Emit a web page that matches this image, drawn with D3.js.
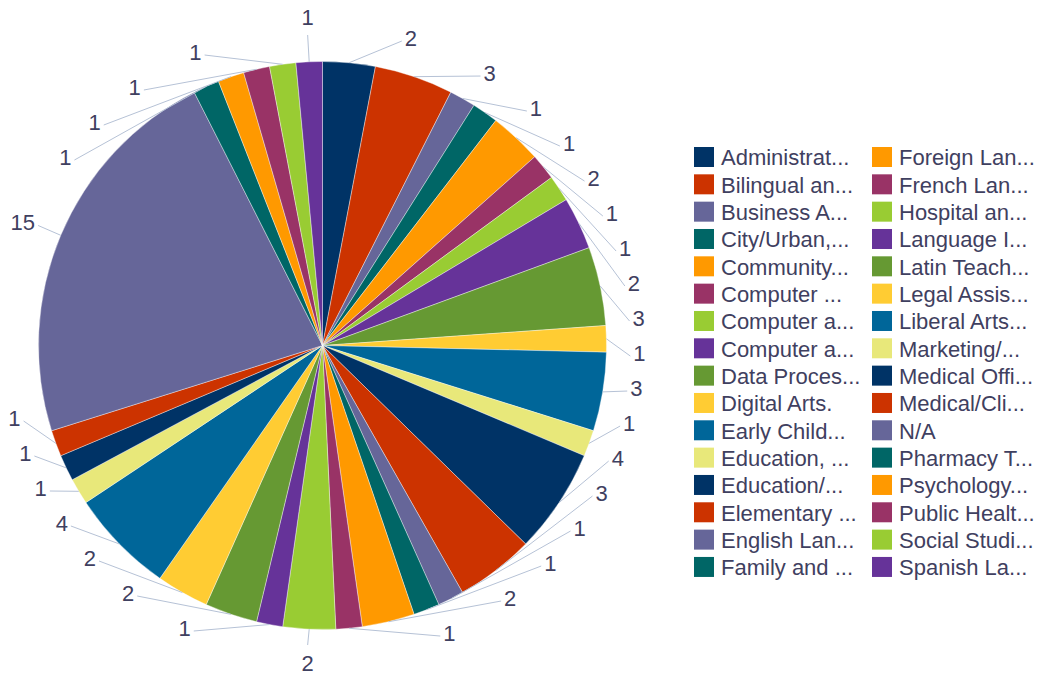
<!DOCTYPE html>
<html>
<head>
<meta charset="utf-8">
<script src="https://cdn.jsdelivr.net/npm/d3@7"></script>
<style>
  body { margin: 0; background: #fff; }
  svg text { font-family: "Liberation Sans", Arial, sans-serif; }
</style>
</head>
<body>
<svg id="chart" width="1037" height="677"></svg>
<script>
// Program categories (legend text as displayed) and their counts
const categories = [
  "Administrat...", "Bilingual an...", "Business A...", "City/Urban,...",
  "Community...", "Computer ...", "Computer a...", "Computer a...",
  "Data Proces...", "Digital Arts.", "Early Child...", "Education, ...",
  "Education/...", "Elementary ...", "English Lan...", "Family and ...",
  "Foreign Lan...", "French Lan...", "Hospital an...", "Language I...",
  "Latin Teach...", "Legal Assis...", "Liberal Arts...", "Marketing/...",
  "Medical Offi...", "Medical/Cli...", "N/A", "Pharmacy T...",
  "Psychology...", "Public Healt...", "Social Studi...", "Spanish La..."
];
const counts = [
  2, 3, 1, 1,
  2, 1, 1, 2,
  3, 1, 3, 1,
  4, 3, 1, 1,
  2, 1, 2, 1,
  2, 2, 4, 1,
  1, 1, 15, 1,
  1, 1, 1, 1
];
const palette = [
  "#003366", "#cc3300", "#666699", "#006666", "#ff9900", "#993366",
  "#99cc33", "#663399", "#669933", "#ffcc33", "#006699", "#e8e87a"
];

const svg = d3.select("#chart");
const cx = 322.5, cy = 345.5, R = 284;
const textColor = "#3f4060";
const lineColor = "#b6c2d6";
const fontSize = 22;

const data = categories.map((c, i) => ({ name: c, value: counts[i], i }));
const color = d3.scaleOrdinal().domain(d3.range(categories.length))
  .range(d3.range(categories.length).map(i => palette[i % palette.length]));

const pie = d3.pie().sort(null).value(d => d.value).startAngle(0).endAngle(2 * Math.PI);
const arcs = pie(data);
const arc = d3.arc().innerRadius(0).outerRadius(R);

const g = svg.append("g");
g.selectAll("path.slice")
  .data(arcs)
  .join("path")
  .attr("class", "slice")
  .attr("transform", `translate(${cx},${cy})`)
  .attr("d", arc)
  .attr("fill", d => color(d.data.i))
  .attr("stroke", "#ffffff")
  .attr("stroke-opacity", 0.55)
  .attr("stroke-width", 0.7);

// ---- Data labels placed on an outer ring, spread apart vertically ----
const LR = 317;            // label ring radius
const lcx = cx, lcy = cy - 3;
const gap = 35;            // vertical spacing between stacked labels
const yMin = 17, yMax = 663;

const labels = arcs.map(a => {
  const mid = (a.startAngle + a.endAngle) / 2;
  return {
    a, mid,
    side: mid < Math.PI ? 1 : -1,
    ny: cy - LR * Math.cos(mid),
    text: String(a.data.value)
  };
});

function distribute(items) {
  items.sort((p, q) => p.ny - q.ny);
  const place = grp => {
    const n = grp.members.length;
    const mean = d3.mean(grp.members, m => m.ny);
    let top = mean - (n - 1) * gap / 2;
    top = Math.max(yMin, Math.min(yMax - (n - 1) * gap, top));
    grp.top = top;
    grp.bottom = top + (n - 1) * gap;
  };
  // a crowded side is laid out as one evenly spaced stack
  const crowded = items.length * gap > 0.9 * (yMax - yMin);
  let groups = crowded ? [{ members: items.slice() }] : items.map(d => ({ members: [d] }));
  groups.forEach(place);
  let merged = true;
  while (merged) {
    merged = false;
    for (let k = 0; k < groups.length - 1; k++) {
      if (groups[k].bottom + gap > groups[k + 1].top) {
        groups[k].members = groups[k].members.concat(groups[k + 1].members);
        groups.splice(k + 1, 1);
        place(groups[k]);
        merged = true;
        break;
      }
    }
  }
  groups.forEach(grp => grp.members.forEach((m, j) => { m.ly = grp.top + j * gap; }));
}
distribute(labels.filter(d => d.side === 1));
distribute(labels.filter(d => d.side === -1));

labels.forEach(d => {
  const dy = d.ly - lcy;
  if (Math.abs(dy) < LR) {
    d.lx = lcx + d.side * Math.sqrt(LR * LR - dy * dy);
    d.extreme = false;
  } else {
    d.lx = lcx + LR * Math.sin(d.mid);
    d.extreme = true;
  }
});

const halfDigit = 6;
const lg = svg.append("g");
lg.selectAll("text.lbl")
  .data(labels)
  .join("text")
  .attr("class", "lbl")
  .attr("x", d => d.extreme ? d.lx : d.lx - d.side * halfDigit)
  .attr("y", d => d.ly + 0.36 * fontSize)
  .attr("text-anchor", d => d.extreme ? "middle" : (d.side > 0 ? "start" : "end"))
  .attr("font-size", fontSize)
  .attr("fill", textColor)
  .text(d => d.text);

lg.selectAll("line.conn")
  .data(labels)
  .join("line")
  .attr("class", "conn")
  .attr("x1", d => cx + R * Math.sin(d.mid))
  .attr("y1", d => cy - R * Math.cos(d.mid))
  .attr("x2", d => d.extreme ? d.lx : d.lx - d.side * (halfDigit + 3))
  .attr("y2", d => d.extreme ? (d.ly < lcy ? d.ly + 18 : d.ly - 18) : d.ly + 3)
  .attr("stroke", lineColor)
  .attr("stroke-width", 1);

// ---- Legend: two columns ----
const rows = Math.ceil(categories.length / 2);
const legX = [694, 872], legY = 147, rowH = 27.33, sw = 20;
const leg = svg.append("g");
const items = leg.selectAll("g.item")
  .data(data)
  .join("g")
  .attr("class", "item")
  .attr("transform", d => {
    const col = Math.floor(d.i / rows), row = d.i % rows;
    return `translate(${legX[col]},${legY + row * rowH})`;
  });
items.append("rect")
  .attr("width", sw).attr("height", sw)
  .attr("fill", d => color(d.i));
items.append("text")
  .attr("x", 27)
  .attr("y", 18.3)
  .attr("font-size", fontSize)
  .attr("fill", textColor)
  .text(d => d.name);
</script>
</body>
</html>
